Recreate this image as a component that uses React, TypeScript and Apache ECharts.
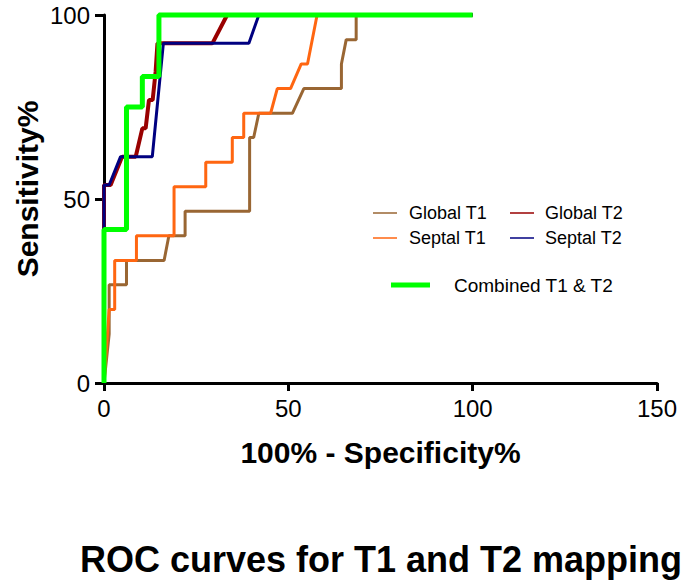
import React, { useEffect, useRef } from "react";
import * as echarts from "echarts";

// ROC points: [100% - Specificity%, Sensitivity%]
const globalT1: [number, number][] = [
  [0, 0], [1.4, 13.3], [1.4, 26.7], [6.1, 26.7], [6.1, 33.3], [16.3, 33.3], [17.6, 40], [22, 40],
  [22, 46.7], [39.5, 46.7], [39.5, 66.7], [40.6, 66.7], [42, 73.3], [51.1, 73.3], [54.2, 80],
  [64.4, 80], [64.4, 86.7], [65.7, 93.3], [68.4, 93.3], [68.4, 100], [100, 100],
];
const septalT1: [number, number][] = [
  [0, 0], [1.4, 20], [2.9, 20], [2.9, 33.3], [8.8, 33.3], [8.8, 40], [19, 40], [19, 53.3],
  [27.6, 53.3], [27.6, 60], [34.8, 60], [34.8, 66.7], [37.9, 66.7], [37.9, 73.3], [45.2, 73.3],
  [47, 80], [50.6, 80], [53.5, 86.7], [55.2, 86.7], [57.8, 100], [100, 100],
];
const globalT2: [number, number][] = [
  [0, 0], [0, 53.8], [1.8, 53.8], [4.9, 61.5], [8.6, 61.5], [10.4, 69.2], [11.3, 69.2],
  [12.2, 76.9], [13.2, 76.9], [14, 84.6], [14.5, 92.3], [29.4, 92.3], [33.4, 100], [100, 100],
];
const septalT2: [number, number][] = [
  [0, 0], [0, 53.8], [1.4, 53.8], [4.5, 61.5], [13.1, 61.5], [14.6, 76.9], [16.1, 92.3],
  [39.3, 92.3], [42, 100], [100, 100],
];
const combined: [number, number][] = [
  [0, 0], [0, 41.7], [6.1, 41.7], [6.1, 75], [10.4, 75], [10.4, 83.3], [14.9, 83.3],
  [14.9, 100], [100, 100],
];

const seriesNames = ["Global T1", "Septal T1", "Global T2", "Septal T2", "Combined T1 & T2"];
const seriesData = [globalT1, septalT1, globalT2, septalT2, combined];
const seriesColors = ["#996633", "#ff6611", "#990000", "#000080", "#00ff00"];
const seriesWidths = [3, 3, 4, 3, 5];
const xTicks = [0, 50, 100, 150];
const yTicks = [0, 50, 100];

const FONT = "'Liberation Sans', Arial, Helvetica, sans-serif";

export default function App() {
  const ref = useRef<HTMLDivElement>(null);
  useEffect(() => {
    if (!ref.current) return;
    const chart = echarts.init(ref.current, undefined, { renderer: "svg" });
    const legendItems = [
      { i: 0, lx: 373, ty: 213, tx: 409 },
      { i: 2, lx: 510, ty: 213, tx: 545 },
      { i: 1, lx: 373, ty: 238, tx: 409 },
      { i: 3, lx: 510, ty: 238, tx: 545 },
    ];
    const graphics: any[] = [];
    legendItems.forEach((it) => {
      graphics.push({
        type: "line",
        shape: { x1: it.lx, y1: it.ty, x2: it.lx + 24, y2: it.ty },
        style: { stroke: seriesColors[it.i], lineWidth: 1.5 },
      });
      graphics.push({
        type: "text",
        x: it.tx,
        y: it.ty,
        style: {
          text: seriesNames[it.i],
          fill: "#000",
          font: `18px ${FONT}`,
          verticalAlign: "middle",
          align: "left",
        },
      });
    });
    graphics.push({
      type: "line",
      shape: { x1: 391, y1: 285, x2: 430, y2: 285 },
      style: { stroke: seriesColors[4], lineWidth: 5 },
    });
    graphics.push({
      type: "text",
      x: 454,
      y: 285,
      style: {
        text: seriesNames[4],
        fill: "#000",
        font: `19px ${FONT}`,
        verticalAlign: "middle",
        align: "left",
      },
    });
    graphics.push({
      type: "text",
      x: 27,
      y: 189,
      rotation: Math.PI / 2,
      style: {
        text: "Sensitivity%",
        fill: "#000",
        font: `bold 30px ${FONT}`,
        align: "center",
        verticalAlign: "middle",
      },
    });
    graphics.push({
      type: "text",
      x: 381,
      y: 559,
      style: {
        text: "ROC curves for T1 and T2 mapping",
        fill: "#000",
        font: `bold 36px ${FONT}`,
        align: "center",
        verticalAlign: "middle",
      },
    });

    chart.setOption({
      animation: false,
      backgroundColor: "#fff",
      grid: { left: 104, right: 28, top: 15, bottom: 198, containLabel: false },
      xAxis: {
        type: "value",
        min: xTicks[0],
        max: xTicks[xTicks.length - 1],
        interval: 50,
        name: "100% - Specificity%",
        nameLocation: "middle",
        nameGap: 54,
        nameTextStyle: { fontSize: 30, fontWeight: "bold", color: "#000", fontFamily: FONT },
        axisLine: { show: true, lineStyle: { color: "#000", width: 3 } },
        axisTick: { show: true, length: 8, lineStyle: { color: "#000", width: 3 } },
        axisLabel: { fontSize: 24, color: "#000", fontFamily: FONT, margin: 13 },
        splitLine: { show: false },
      },
      yAxis: {
        type: "value",
        min: yTicks[0],
        max: yTicks[yTicks.length - 1],
        interval: 50,
        axisLine: { show: true, lineStyle: { color: "#000", width: 3 } },
        axisTick: { show: true, length: 9, lineStyle: { color: "#000", width: 3 } },
        axisLabel: { fontSize: 24, color: "#000", fontFamily: FONT, margin: 14 },
        splitLine: { show: false },
      },
      series: seriesData.map((d, i) => ({
        name: seriesNames[i],
        type: "line",
        data: d,
        symbol: "none",
        showSymbol: false,
        color: seriesColors[i],
        lineStyle: { color: seriesColors[i], width: seriesWidths[i] },
        z: 2 + i,
        clip: false,
      })),
      graphic: graphics,
    });
    return () => chart.dispose();
  }, []);
  return (
    <div
      ref={ref}
      style={{ position: "fixed", left: 0, top: 0, width: 685, height: 581, background: "#fff" }}
    />
  );
}
